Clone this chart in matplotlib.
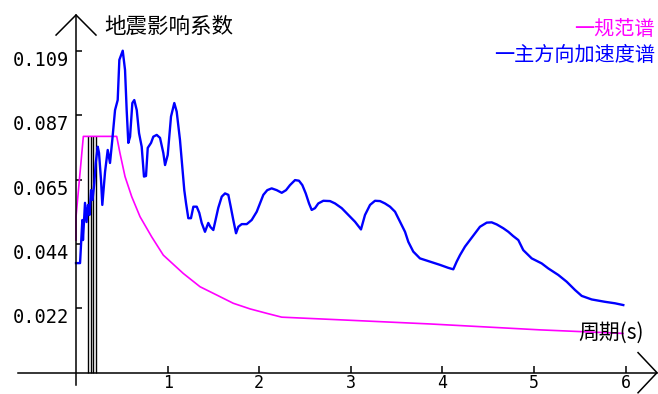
import numpy as np
import matplotlib
matplotlib.use('Agg')
import matplotlib.pyplot as plt

plt.rcParams['font.family'] = ['Noto Sans CJK SC', 'DejaVu Sans']

# ---- data ----
# main-direction acceleration spectrum (blue)
acc_T = [0.0, 0.044, 0.069, 0.076, 0.098, 0.115, 0.131, 0.147, 0.164, 0.180,
         0.200, 0.215, 0.237, 0.251, 0.273, 0.287, 0.317, 0.346, 0.371, 0.396,
         0.426, 0.455, 0.473, 0.510, 0.535, 0.553, 0.571, 0.590, 0.615, 0.636,
         0.663, 0.688, 0.717, 0.742, 0.764, 0.783, 0.819, 0.844, 0.881, 0.917,
         0.953, 0.972, 1.001, 1.037, 1.073, 1.099, 1.135, 1.160, 1.182, 1.201,
         1.226, 1.255, 1.281, 1.318, 1.346, 1.372, 1.408, 1.444, 1.468, 1.499,
         1.528, 1.553, 1.591, 1.627, 1.663, 1.689, 1.717, 1.747, 1.772, 1.809,
         1.864, 1.918, 1.973, 2.009, 2.045, 2.088, 2.136, 2.191, 2.246, 2.293,
         2.336, 2.391, 2.434, 2.471, 2.508, 2.544, 2.573, 2.609, 2.645, 2.700,
         2.773, 2.828, 2.901, 2.973, 3.046, 3.111, 3.155, 3.210, 3.264, 3.319,
         3.373, 3.428, 3.483, 3.537, 3.592, 3.628, 3.682, 3.755, 3.865, 3.974,
         4.064, 4.119, 4.156, 4.192, 4.247, 4.301, 4.356, 4.410, 4.484, 4.538,
         4.593, 4.665, 4.720, 4.771, 4.829, 4.883, 4.975, 5.084, 5.156, 5.265,
         5.357, 5.448, 5.521, 5.630, 5.775, 5.884, 5.975]
acc_a = [0.0371, 0.0371, 0.0517, 0.0449, 0.0575, 0.0510, 0.0568, 0.0534, 0.0618, 0.0585,
         0.0642, 0.0710, 0.0765, 0.0744, 0.0652, 0.0568, 0.0680, 0.0754, 0.0710, 0.0788,
         0.0889, 0.0923, 0.1059, 0.1090, 0.1025, 0.0889, 0.0778, 0.0799, 0.0913, 0.0923,
         0.0889, 0.0811, 0.0765, 0.0664, 0.0666, 0.0761, 0.0778, 0.0799, 0.0805, 0.0795,
         0.0744, 0.0703, 0.0737, 0.0867, 0.0913, 0.0884, 0.0788, 0.0697, 0.0618, 0.0574,
         0.0523, 0.0523, 0.0562, 0.0562, 0.0541, 0.0507, 0.0477, 0.0507, 0.0493, 0.0483,
         0.0524, 0.0558, 0.0596, 0.0607, 0.0602, 0.0562, 0.0517, 0.0472, 0.0494, 0.0503,
         0.0503, 0.0517, 0.0545, 0.0573, 0.0602, 0.0618, 0.0624, 0.0618, 0.0609, 0.0618,
         0.0635, 0.0652, 0.0650, 0.0635, 0.0607, 0.0573, 0.0551, 0.0557, 0.0573, 0.0582,
         0.0581, 0.0573, 0.0557, 0.0534, 0.0511, 0.0485, 0.0534, 0.0568, 0.0582, 0.0581,
         0.0573, 0.0562, 0.0545, 0.0511, 0.0477, 0.0443, 0.0410, 0.0387, 0.0376, 0.0365,
         0.0355, 0.0350, 0.0376, 0.0398, 0.0427, 0.0449, 0.0472, 0.0494, 0.0508, 0.0509,
         0.0502, 0.0489, 0.0477, 0.0463, 0.0449, 0.0415, 0.0387, 0.0370, 0.0353, 0.0331,
         0.0308, 0.0280, 0.0260, 0.0248, 0.0240, 0.0235, 0.0229]

# code design spectrum (magenta)
code_T = [0.0, 0.0, 0.080, 0.444, 0.480, 0.535, 0.608, 0.699, 0.826, 0.953,
          1.171, 1.354, 1.536, 1.717, 1.900, 2.082, 2.246, 2.955, 3.865, 5.066, 5.972]
code_a = [0.0449, 0.0528, 0.0800, 0.0800, 0.0743, 0.0664, 0.0596, 0.0528, 0.0460, 0.0398,
          0.0336, 0.0291, 0.0263, 0.0235, 0.0216, 0.0201, 0.0188, 0.0178, 0.0165, 0.0145, 0.0133]

# black vertical lines near the plateau start
bar_T = [0.134, 0.161, 0.189, 0.218]
bar_top = 0.080

ytick_vals = [0.0218, 0.0436, 0.0654, 0.0872, 0.1090]
ytick_labels = ['0.022', '0.044', '0.065', '0.087', '0.109']
xtick_vals = [1, 2, 3, 4, 5, 6]
xtick_labels = ['1', '2', '3', '4', '5', '6']

# ---- figure ----
fig = plt.figure(figsize=(6.58, 3.94), dpi=100)
ax = fig.add_axes([0, 0, 1, 1])
ax.set_xlim(-0.830, 6.354)
ax.set_ylim(-0.00721, 0.12617)

ax.vlines(bar_T, 0, bar_top, colors='black', lw=1.0)
ax.plot(code_T, code_a, color='#FF00FF', lw=1.2)
ax.plot(acc_T, acc_a, color='#0000FF', lw=1.7)

# axes through the origin
for s in ['top', 'right']:
    ax.spines[s].set_visible(False)
ax.spines['left'].set_position(('data', 0))
ax.spines['bottom'].set_position(('data', 0))
ytip, xtip = 0.1211, 6.343
ax.spines['left'].set_bounds(-0.0042, ytip)
ax.spines['bottom'].set_bounds(-0.633, xtip)
ax.spines['left'].set_linewidth(1.1)
ax.spines['bottom'].set_linewidth(1.1)

# open arrow heads
ax.plot([-0.218, 0, 0.218], [ytip - 0.0068, ytip, ytip - 0.0068], color='black', lw=1.1)
ax.plot([xtip - 0.207, xtip, xtip - 0.207], [0.0068, 0, -0.0068], color='black', lw=1.1)

ax.set_yticks(ytick_vals)
ax.set_yticklabels(ytick_labels, family='DejaVu Sans Mono', fontsize=13.5)
ax.set_xticks(xtick_vals)
ax.set_xticklabels(xtick_labels, family='DejaVu Sans Mono', fontsize=12)
ax.tick_params(axis='y', direction='in', length=4.5, width=1.1, pad=5)
ax.tick_params(axis='x', direction='in', length=5, width=1.1, pad=1)
for lbl in ax.get_yticklabels():
    lbl.set_verticalalignment('top')

fig.text(0.158, 0.931, '地震影响系数', fontsize=15.5, va='center', ha='left', color='black')
fig.text(0.879, 0.155, '周期(s)', fontsize=15, va='center', ha='left', color='black')
fig.text(0.995, 0.924, '一规范谱', fontsize=14.5, va='center', ha='right', color='#FF00FF')
fig.text(0.995, 0.860, '一主方向加速度谱', fontsize=14.5, va='center', ha='right', color='#0000FF')

fig.savefig('out.png', dpi=100)
